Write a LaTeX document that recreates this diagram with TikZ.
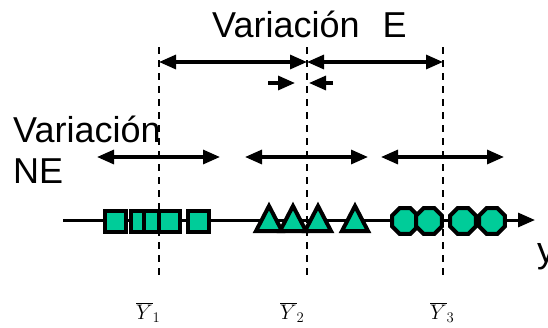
\documentclass[tikz,border=0pt]{standalone}
\usepackage{fix-cm}
\usepackage{fontspec}
\setmainfont{Liberation Sans}
\usetikzlibrary{arrows.meta,
	shapes.geometric}
\definecolor{markgreen}{HTML}{00CC99}

\begin{document}
\begin{tikzpicture}[x = 1pt, y = -1pt,
                >={Triangle[length=17pt,width=14pt]},
                dim/.style={line width=3.2pt, <->},
                mean/.style={line width=2.2pt, dash pattern=on 7pt off 6pt},
                sq/.style={rectangle, draw, fill=markgreen, line width=4pt,
                           minimum size=21pt, inner sep=0pt},
                oct/.style={regular polygon, regular polygon sides=8, draw,
                            fill=markgreen, line width=4pt, minimum size=28pt, inner sep=0pt},
                tri/.style={draw, fill=markgreen, line width=4pt, line join=miter},
                big/.style={font=\fontsize{36}{41}\selectfont, inner sep=0pt},
                ybar/.style={font=\fontsize{21}{21}\selectfont, inner sep=0pt}]
            \useasboundingbox (0,0) rectangle (548,327);
            % group means
            \foreach \i/\x in {1/159, 2/307, 3/443} {
                \coordinate (top\i) at (\x,47);
                \coordinate (bot\i) at (\x,277);
                \coordinate (e\i) at (\x,62);
                \coordinate (nl\i) at (\x-62,157);
                \coordinate (nr\i) at (\x+61,157);
                \draw[mean] (top\i) -- (bot\i);
                \draw[dim] (nl\i) -- (nr\i);
            }
            \draw[dim] (e1) -- (e2);
            \draw[dim] (e2) -- (e3);
            \coordinate (sa0) at (268,83);
            \coordinate (sa1) at (295,83);
            \coordinate (sb0) at (333,83);
            \coordinate (sb1) at (309,83);
            \draw[line width=3.2pt, ->] (sa0) -- (sa1);
            \draw[line width=3.2pt, ->] (sb0) -- (sb1);
            % axis
            \coordinate (ax0) at (63,220);
            \coordinate (ax1) at (535,220);
            \draw[line width=3pt, ->] (ax0) -- (ax1);
            % observations
            \foreach \x [count=\k] in {115, 141, 154, 169, 198}
                \node[sq] (s\k) at (\x,221) {};
            \foreach \x in {269, 293, 318, 355}
                \draw[tri] (\x-13,231) -- (\x,206) -- (\x+13,231) -- cycle;
            \foreach \x [count=\k] in {405, 429, 463, 492}
                \node[oct] (o\k) at (\x,221) {};
            % labels
            \node[big, anchor=base west] (ve) at (212,37) {Variación\hspace{23pt}E};
            \node[big, anchor=base west] (vne) at (13,142) {Variación};
            \node[big, anchor=base west] (ne) at (13,183) {NE};
            \node[big, anchor=base west] (yax) at (537,262) {y};
            \node[ybar, anchor=base west] (l1) at (136,319) {$\overline{Y}_1$};
            \node[ybar, anchor=base west] (l2) at (280,319) {$\overline{Y}_2$};
            \node[ybar, anchor=base west] (l3) at (430,319) {$\overline{Y}_3$};
        \end{tikzpicture}
\end{document}
